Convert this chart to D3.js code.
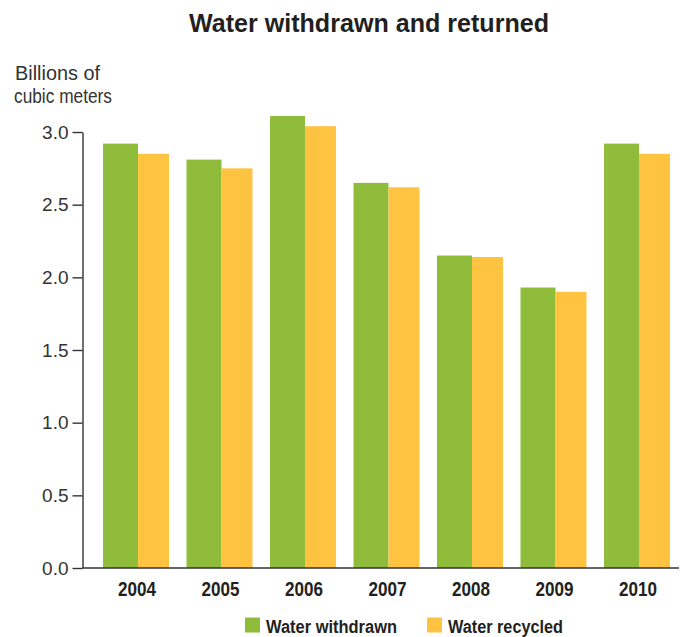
<!DOCTYPE html>
<html>
<head>
<meta charset="utf-8">
<script src="https://cdn.jsdelivr.net/npm/d3@7"></script>
<style>
  html, body { margin: 0; padding: 0; background: #fff; }
  svg { display: block; font-family: "Liberation Sans Narrow", "Arial Narrow", "Liberation Sans", sans-serif; }
</style>
</head>
<body>
<svg id="chart" width="683" height="637"></svg>
<script>
// Annual volumes, billions of cubic meters
const years = ["2004", "2005", "2006", "2007", "2008", "2009", "2010"];
const withdrawn = [2.92, 2.81, 3.11, 2.65, 2.15, 1.93, 2.92];
const recycled = [2.85, 2.75, 3.04, 2.62, 2.14, 1.90, 2.85];
const yTicks = [0, 0.5, 1.0, 1.5, 2.0, 2.5, 3.0];
const unitLines = ["Billions of", "cubic meters"];
const seriesNames = ["Water withdrawn", "Water recycled"];
const seriesColors = ["#8fbc3a", "#ffc342"];

const svg = d3.select("#chart");
const axisX = 82.5, plotRight = 679;

const x = d3.scaleBand().domain(years).range([94, plotRight])
  .paddingInner(0.21).paddingOuter(0.108);
const y = d3.scaleLinear().domain([0, 3]).range([568, 132]);

// Narrow the condensed-style labels to a fixed width
function condense(sel, width) {
  sel.attr("textLength", width).attr("lengthAdjust", "spacingAndGlyphs");
}

// Title
svg.append("text")
  .attr("x", 369).attr("y", 32)
  .attr("text-anchor", "middle")
  .attr("font-size", 26.5).attr("font-weight", "bold").attr("fill", "#231f20")
  .text("Water withdrawn and returned")
  .call(condense, 360);

// Unit label, one text element per line
const unitX = [15, 14], unitY = [79.5, 102.5], unitW = [85, 98];
svg.append("g").selectAll("text").data(unitLines).join("text")
  .attr("x", (d, i) => unitX[i]).attr("y", (d, i) => unitY[i])
  .attr("font-size", 19.5).attr("fill", "#333")
  .attr("textLength", (d, i) => unitW[i])
  .attr("lengthAdjust", "spacingAndGlyphs")
  .text(d => d);

// Bars
const split = 35 / 66;
const groups = svg.append("g").selectAll("g").data(years).join("g");
groups.append("rect")
  .attr("x", d => x(d))
  .attr("width", x.bandwidth() * split)
  .attr("y", (d, i) => y(withdrawn[i]))
  .attr("height", (d, i) => y(0) - y(withdrawn[i]))
  .attr("fill", seriesColors[0]);
groups.append("rect")
  .attr("x", d => x(d) + x.bandwidth() * split)
  .attr("width", x.bandwidth() * (1 - split))
  .attr("y", (d, i) => y(recycled[i]))
  .attr("height", (d, i) => y(0) - y(recycled[i]))
  .attr("fill", seriesColors[1]);

// Y axis
const yAxis = svg.append("g")
  .attr("transform", `translate(${axisX},0)`)
  .call(d3.axisLeft(y).tickValues(yTicks).tickFormat(d3.format(".1f"))
    .tickSize(10).tickSizeOuter(0).tickPadding(4));
yAxis.selectAll("path, line").attr("stroke", "#333").attr("stroke-width", 1.4);
yAxis.selectAll("text")
  .attr("font-size", 19).attr("fill", "#333")
  .attr("font-family", "\"Liberation Sans Narrow\", \"Arial Narrow\", \"Liberation Sans\", sans-serif");

// Baseline
svg.append("line")
  .attr("x1", axisX).attr("x2", plotRight)
  .attr("y1", y(0)).attr("y2", y(0))
  .attr("stroke", "#333").attr("stroke-width", 1.4);

// Year labels
svg.append("g").selectAll("text").data(years).join("text")
  .attr("x", d => x(d) + x.bandwidth() / 2 + 1)
  .attr("y", 596)
  .attr("text-anchor", "middle")
  .attr("font-size", 19.5).attr("font-weight", "bold").attr("fill", "#231f20")
  .text(d => d)
  .call(condense, 38);

// Legend
const legendX = [245, 427];
const legendTextWidth = [131, 115];
const legend = svg.append("g").selectAll("g").data(seriesNames).join("g")
  .attr("transform", (d, i) => `translate(${legendX[i]},617.5)`);
legend.append("rect").attr("width", 15).attr("height", 15)
  .attr("fill", (d, i) => seriesColors[i]);
legend.append("text")
  .attr("x", 21).attr("y", 15)
  .attr("font-size", 18).attr("font-weight", "bold").attr("fill", "#231f20")
  .attr("textLength", (d, i) => legendTextWidth[i])
  .attr("lengthAdjust", "spacingAndGlyphs")
  .text(d => d);
</script>
</body>
</html>
